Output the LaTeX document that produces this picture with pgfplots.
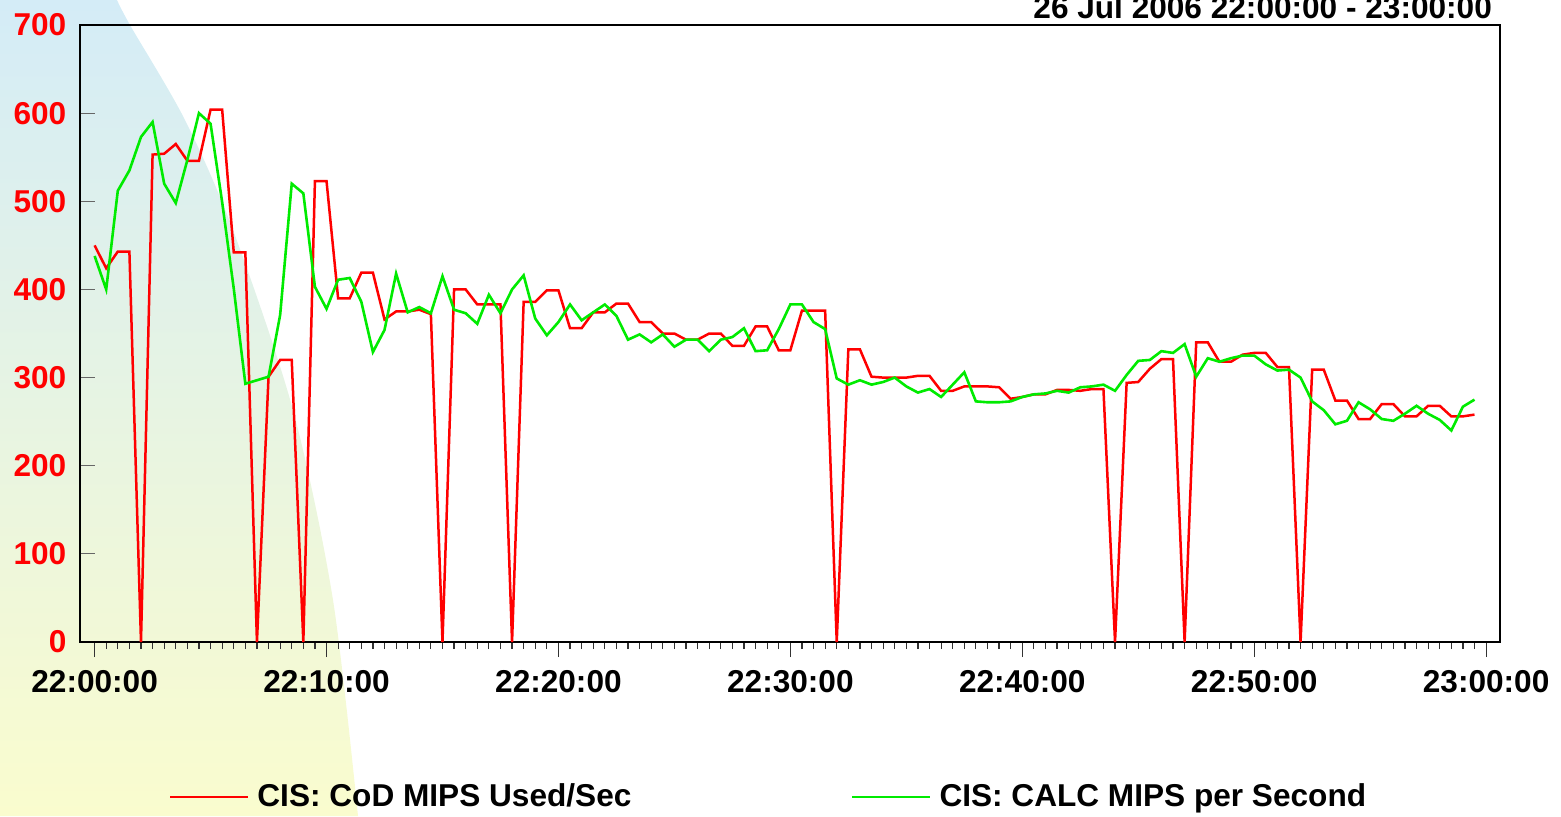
\documentclass[border=0pt]{standalone}
\usepackage{fontspec}
\setmainfont{Liberation Sans}
\usepackage{pgfplots}
\usepackage{pgfplotstable}
\pgfplotsset{compat=1.18}
\definecolor{cred}{RGB}{255,0,0}
\definecolor{cgreen}{RGB}{0,235,0}
\definecolor{bgtop}{RGB}{212,236,247}
\definecolor{bgbot}{RGB}{250,252,206}
\newcommand{\bigbf}{\bfseries\fontsize{15.8}{18}\selectfont}

\pgfplotstableread{
t v
0 450
0.5 424
1 443
1.5 443
2 0
2.5 553
3 554
3.5 565
4 546
4.5 546
5 604
5.5 604
6 442
6.5 442
7 0
7.5 301
8 320
8.5 320
9 0
9.5 523
10 523
10.5 390
11 390
11.5 419
12 419
12.5 366
13 375
13.5 375
14 377
14.5 372
15 0
15.5 400
16 400
16.5 383
17 383
17.5 383
18 0
18.5 386
19 386
19.5 399
20 399
20.5 356
21 356
21.5 374
22 374
22.5 384
23 384
23.5 363
24 363
24.5 350
25 350
25.5 343
26 343
26.5 350
27 350
27.5 336
28 336
28.5 358
29 358
29.5 331
30 331
30.5 376
31 376
31.5 376
32 0
32.5 332
33 332
33.5 301
34 300
34.5 300
35 300
35.5 302
36 302
36.5 285
37 285
37.5 290
38 290
38.5 290
39 289
39.5 276
40 278
40.5 281
41 281
41.5 286
42 286
42.5 285
43 287
43.5 287
44 0
44.5 294
45 295
45.5 310
46 321
46.5 321
47 0
47.5 340
48 340
48.5 318
49 318
49.5 326
50 328
50.5 328
51 312
51.5 312
52 0
52.5 309
53 309
53.5 274
54 274
54.5 253
55 253
55.5 270
56 270
56.5 256
57 256
57.5 268
58 268
58.5 256
59 256
59.5 258
}\reddata

\pgfplotstableread{
t v
0 438
0.5 400
1 512
1.5 535
2 573
2.5 590
3 520
3.5 498
4 547
4.5 600
5 588
5.5 499
6 401
6.5 293
7 297
7.5 301
8 371
8.5 520
9 509
9.5 403
10 378
10.5 411
11 413
11.5 386
12 329
12.5 354
13 418
13.5 374
14 380
14.5 373
15 415
15.5 377
16 373
16.5 361
17 394
17.5 373
18 400
18.5 416
19 367
19.5 348
20 363
20.5 383
21 365
21.5 374
22 383
22.5 370
23 343
23.5 349
24 340
24.5 349
25 335
25.5 343
26 343
26.5 330
27 343
27.5 346
28 356
28.5 330
29 331
29.5 355
30 383
30.5 383
31 363
31.5 355
32 299
32.5 292
33 297
33.5 292
34 295
34.5 300
35 290
35.5 283
36 287
36.5 278
37 292
37.5 306
38 273
38.5 272
39 272
39.5 273
40 278
40.5 281
41 282
41.5 285
42 283
42.5 289
43 290
43.5 292
44 285
44.5 303
45 319
45.5 320
46 330
46.5 328
47 338
47.5 301
48 322
48.5 318
49 322
49.5 325
50 325
50.5 315
51 308
51.5 309
52 300
52.5 273
53 263
53.5 247
54 251
54.5 272
55 264
55.5 253
56 251
56.5 259
57 268
57.5 259
58 252
58.5 240
59 267
59.5 275
}\greendata

\begin{document}
\begin{tikzpicture}
\begin{scope}[x=0.5pt,y=-0.5pt]
\shade[top color=bgtop, bottom color=bgbot] (0,0) -- plot[smooth] coordinates {(117,0) (130,25) (185,120) (233,230) (293,410) (333,600) (358,816)} -- (0,816) -- cycle;
\end{scope}
\begin{axis}[
  at={(40pt,-321pt)}, anchor=south west,
  width=710pt, height=308.5pt, scale only axis,
  xmin=-0.63, xmax=60.6, ymin=0, ymax=700,
  axis line style={black, line width=0.6pt},
  xtick={0,10,...,60},
  xticklabels={22:00:00,22:10:00,22:20:00,22:30:00,22:40:00,22:50:00,23:00:00},
  minor x tick num=19,
  ytick={0,100,...,700},
  xtick pos=lower, ytick pos=left,
  xtick align=outside, ytick align=inside,
  major tick length=7.5pt, minor tick length=3.5pt,
  x tick style={black!80, line width=0.6pt},
  y tick style={black!60, line width=0.6pt},
  /pgf/number format/assume math mode=true,
  xticklabel style={font=\bigbf, text=black, yshift=-3pt},
  yticklabel style={font=\bigbf, text=cred, xshift=-3.3pt},
  legend columns=2,
  legend style={at={(0.0627,-0.2512)}, anchor=west, draw=none, fill=none,
    font=\bigbf, inner sep=0pt,
    /tikz/every even column/.append style={column sep=108pt}},
  legend cell align=left,
  legend image code/.code={\draw[#1,line width=0.75pt] (0pt,0pt) -- (39pt,0pt); \path (41pt,0pt);},
]
\addplot[cred, line width=1.25pt] table[x=t,y=v]{\reddata};
\addlegendentry{CIS: CoD MIPS Used/Sec}
\addplot[cgreen, line width=1.3pt] table[x=t,y=v]{\greendata};
\addlegendentry{CIS: CALC MIPS per Second}
\end{axis}
\node[anchor=base east, font=\bigbf] at (749.5pt,-9pt) {26 Jul 2006 22:00:00 - 23:00:00};
\pgfresetboundingbox
\useasboundingbox (0,0) rectangle (780.5pt,-408pt);
\end{tikzpicture}
\end{document}
